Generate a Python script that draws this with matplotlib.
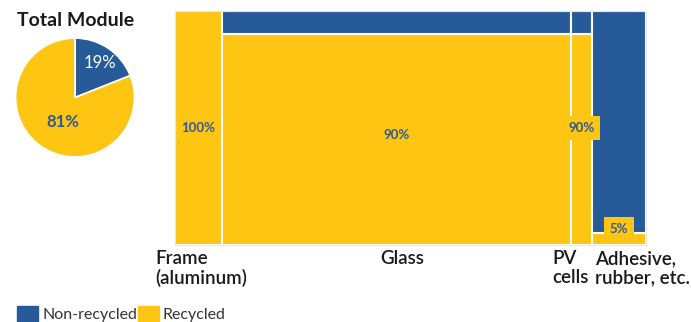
import matplotlib.pyplot as plt
import numpy as np

plt.rcParams['font.family'] = ['Lato', 'DejaVu Sans']

# module composition (share of mass, %) and recycled share of each part
parts = ['Frame\n(aluminum)', 'Glass', 'PV\ncells', 'Adhesive,\nrubber, etc.']
share = [10, 74, 4.5, 11.5]
recycled = [100, 90, 90, 5]
total_recycled = [19, 81]  # non-recycled, recycled

blue = '#265a98'
yellow = '#fec512'
label_col = '#2f5a94'

fig = plt.figure(figsize=(6.91, 3.22), dpi=100)

# marimekko
ax = fig.add_axes([175 / 691, 1 - 245 / 322, 471 / 691, 234 / 322])
left = np.concatenate([[0], np.cumsum(share)[:-1]])
rec = np.array(recycled)
non = 100 - rec
ax.bar(left, rec, width=share, align='edge', color=yellow, edgecolor='white', linewidth=1.5)
ax.bar(left, non, width=share, bottom=rec, align='edge', color=blue, edgecolor='white', linewidth=1.5)
ax.set_xlim(0, 100)
ax.set_ylim(0, 100)
ax.set_xticks([])
ax.set_yticks([])
for s in ax.spines.values():
    s.set_color('#e6e6e6')
    s.set_linewidth(0.8)

lab_y = [50, 47, 50, 7]
for i in range(len(parts)):
    cx = left[i] + share[i] / 2
    box = None
    if i >= 2:
        box = dict(boxstyle='square,pad=0.45', fc=yellow, ec='none')
    ax.text(cx, lab_y[i], f'{recycled[i]}%', ha='center', va='center', fontsize=9.5,
            fontweight='bold', color=label_col, bbox=box)

# part names under the bars
name_dx = [-20, 0, -18, 3]
for i, name in enumerate(parts):
    if i == 1:
        ax.annotate(name, (left[i] + share[i] / 2, 0), xytext=(6, -5), textcoords='offset pixels',
                    ha='center', va='top', fontsize=13.5, fontweight='semibold', color='#1a1a1a')
    else:
        ax.annotate(name, (left[i], 0), xytext=(name_dx[i], -5), textcoords='offset pixels',
                    ha='left', va='top', fontsize=13.5, fontweight='semibold', color='#1a1a1a',
                    linespacing=1.15)

# total module pie
pax = fig.add_axes([15 / 691, 1 - 157.5 / 322, 120 / 691, 120 / 322])
wedges, _ = pax.pie(total_recycled, colors=[blue, yellow], startangle=90, counterclock=False,
                    wedgeprops=dict(edgecolor='white', linewidth=1.2))
pax.set_xlim(-1.01, 1.01)
pax.set_ylim(-1.01, 1.01)
pax.set_aspect('equal')
pax.text(0.42, 0.58, f'{total_recycled[0]}%', ha='center', va='center', fontsize=12, color='white')
pax.text(-0.2, -0.42, f'{total_recycled[1]}%', ha='center', va='center', fontsize=12,
         fontweight='bold', color=label_col)
fig.text(17 / 691, 1 - 21 / 322, 'Total Module', ha='left', va='center', fontsize=14,
         fontweight='bold', color='#1a1a1a')

# legend
fig.patches.append(plt.Rectangle((17 / 691, 0), 21 / 691, 16 / 322, transform=fig.transFigure,
                                 color=blue))
fig.text(42 / 691, 7 / 322, 'Non-recycled', ha='left', va='center', fontsize=11.5, color='#333333')
fig.patches.append(plt.Rectangle((138 / 691, 0), 21 / 691, 16 / 322, transform=fig.transFigure,
                                 color=yellow))
fig.text(163 / 691, 7 / 322, 'Recycled', ha='left', va='center', fontsize=11.5, color='#333333')

fig.savefig('out.png', dpi=100)
